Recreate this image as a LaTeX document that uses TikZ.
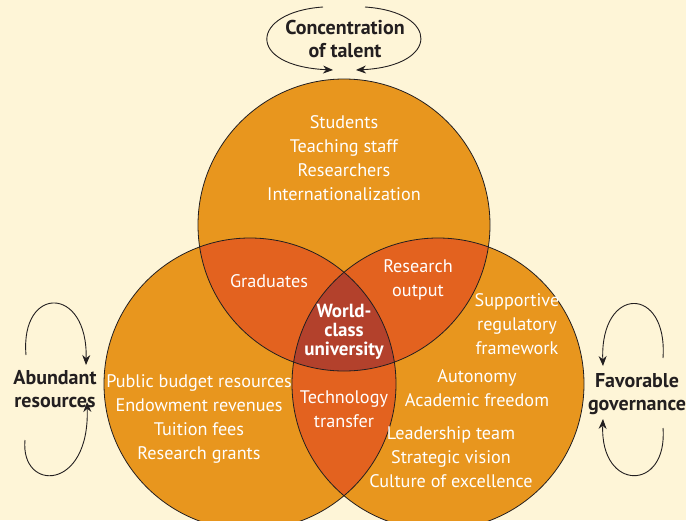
\documentclass[tikz,border=0pt]{standalone}
\usepackage{fontspec}
\setmainfont{PT Sans}
\usetikzlibrary{arrows.meta}
\definecolor{bgc}{HTML}{FEF5D7}
\definecolor{orc}{HTML}{E8961E}
\definecolor{dorc}{HTML}{E3621F}
\definecolor{brc}{HTML}{B3412C}
\definecolor{ink}{HTML}{231F20}
\tikzset{
  wtext/.style={text=white, align=center, font=\fontsize{18.2}{24}\selectfont, inner sep=0pt},
  ctext/.style={text=white, align=center, font=\fontsize{19}{19}\selectfont\bfseries, inner sep=0pt},
  btext/.style={text=ink, align=center, font=\fontsize{20}{23}\selectfont\bfseries, inner sep=0pt},
  loop/.style={draw=ink, line width=0.9pt, -{Stealth[length=10pt,width=8pt]}},
  ring/.style={draw=ink, line width=0.8pt}
}
\begin{document}
\begin{tikzpicture}[x=1pt,y=-1pt]
\useasboundingbox (0,0) rectangle (686,520);
\fill[bgc] (0,0) rectangle (686,520);
\begin{scope}
\clip (0,0) rectangle (686,520);
\coordinate (T) at (344,225);
\coordinate (L) at (250,384);
\coordinate (R) at (438,384);
\def\rr{146}
\fill[orc] (T) circle (\rr);
\fill[orc] (L) circle (\rr);
\fill[orc] (R) circle (\rr);
\begin{scope}
\clip (T) circle (\rr);
\fill[dorc] (L) circle (\rr);
\fill[dorc] (R) circle (\rr);
\end{scope}
\begin{scope}
\clip (L) circle (\rr);
\fill[dorc] (R) circle (\rr);
\end{scope}
\begin{scope}
\clip (T) circle (\rr);
\clip (L) circle (\rr);
\fill[brc] (R) circle (\rr);
\end{scope}
\draw[ring] (T) circle (\rr);
\draw[ring] (L) circle (\rr);
\draw[ring] (R) circle (\rr);
\end{scope}

% texts in circles
\node[wtext] (top) at (344,158) {Students\\Teaching staff\\Researchers\\Internationalization};
\node[wtext] (grad) at (269,281) {Graduates};
\node[wtext] (resout) at (418,280) {Research\\output};
\node[ctext] (wcu) at (344,332) {World-\\class\\university};
\node[wtext] (tech) at (344,409) {Technology\\transfer};
\node[wtext] (left) at (199,419) {Public budget resources\\Endowment revenues\\Tuition fees\\Research grants};
\node[wtext] (supp) at (517,324) {Supportive\\regulatory\\framework};
\node[wtext] (auto) at (477,388) {Autonomy\\Academic freedom};
\node[wtext] (lead) at (451,457) {Leadership team\\Strategic vision\\Culture of excellence};

% outer labels
\node[btext] (conc) at (345,39) {Concentration\\of talent};
\node[btext] (abund) at (55,389) {Abundant\\resources};
\node[btext] (fav) at (637,394) {Favorable\\governance};

% loops
\coordinate (c1) at (323,7);
\coordinate (c2) at (365,7);
\coordinate (ce1) at (333,70);
\coordinate (ce2) at (356,70);
\coordinate (a1) at (26,355);
\coordinate (a2) at (25,440);
\coordinate (ae1) at (86,365);
\coordinate (ae2) at (87,402);
\coordinate (f1) at (663,358);
\coordinate (f2) at (663,428);
\coordinate (fe1) at (603,366);
\coordinate (fe2) at (603,419);
\draw[loop] (c1) .. controls (250,12) and (245,66) .. (ce1);
\draw[loop] (c2) .. controls (440,12) and (440,66) .. (ce2);
\draw[loop] (a1) .. controls (20,285) and (88,285) .. (ae1);
\draw[loop] (a2) .. controls (20,492) and (90,492) .. (ae2);
\draw[loop] (f1) .. controls (668,285) and (600,285) .. (fe1);
\draw[loop] (f2) .. controls (668,492) and (600,492) .. (fe2);
\end{tikzpicture}
\end{document}
